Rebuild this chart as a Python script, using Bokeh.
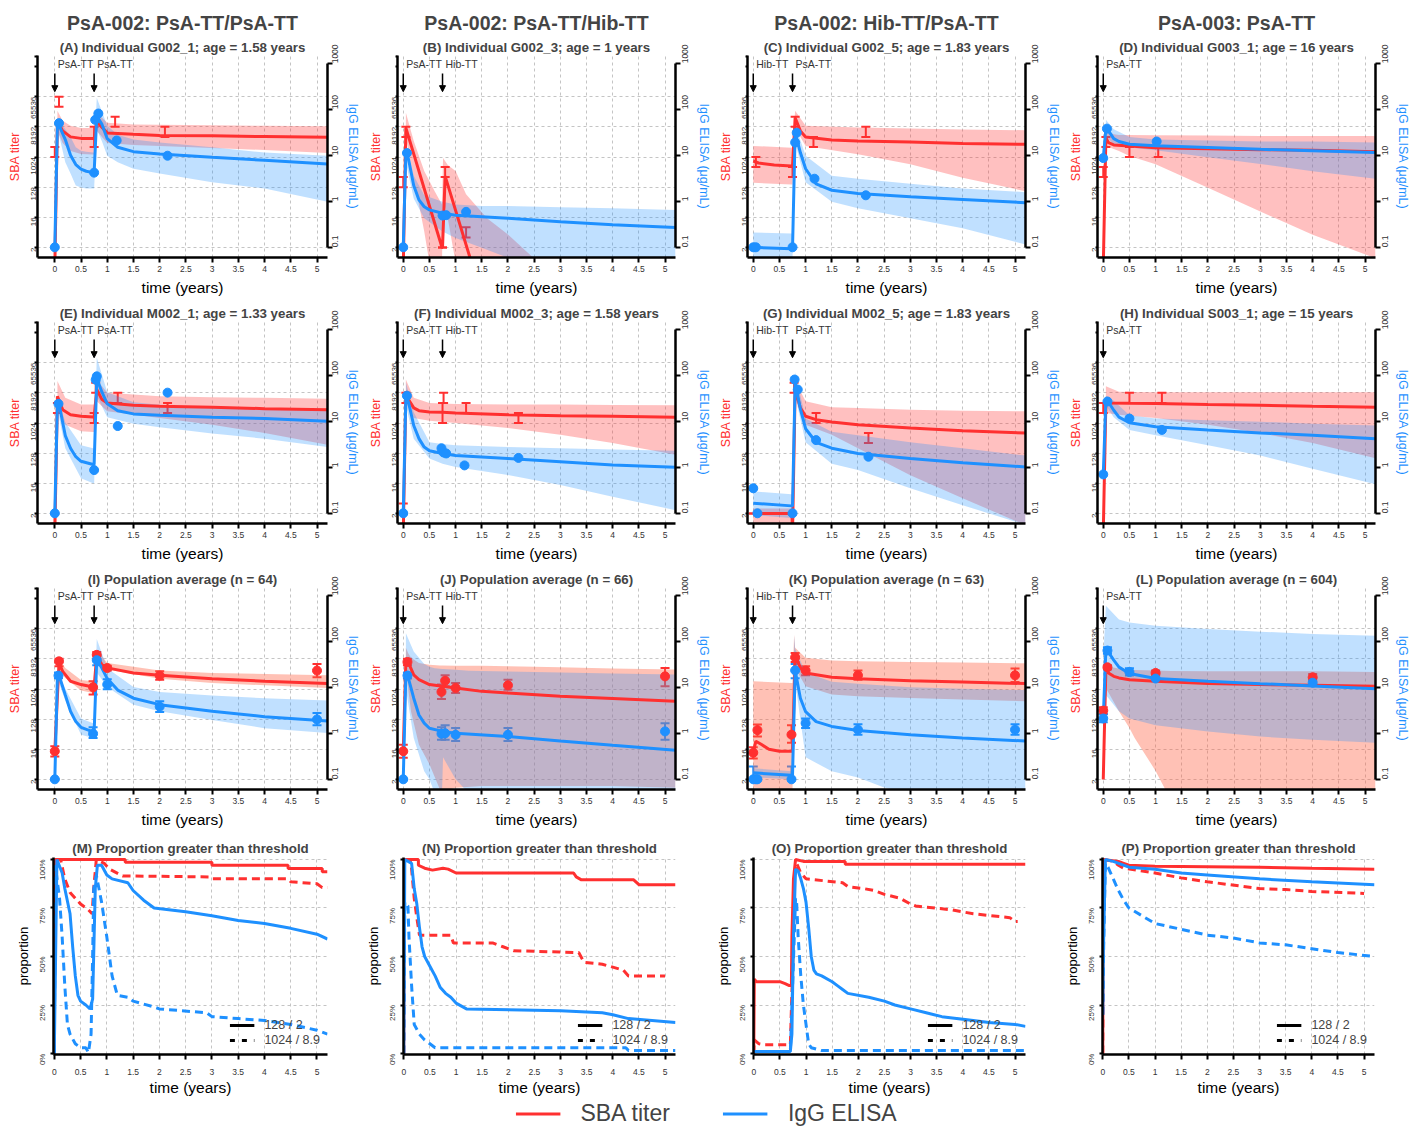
import math
from bokeh.plotting import figure
from bokeh.models import (Range1d, LogScale, LogAxis, FixedTicker, ColumnDataSource,
                          Whisker, TeeHead, Arrow, NormalHead, Title, Legend, LegendItem)
from bokeh.layouts import column, row
from bokeh.embed import file_html
from bokeh.resources import INLINE
from bokeh.core.properties import value

# ----------------------------------------------------------------- data
# SBA titers (reciprocal titer) and IgG ELISA (ug/mL) versus time (years)

# Panel A
A_sba_t = [0, 0.05, 0.15, 0.3, 0.5, 0.73, 0.75, 0.8, 1.0, 1.5, 2, 3, 4, 5.2]
A_sba_fit = [0.5, 12400, 6200, 4100, 3700, 3700, 3700, 11600, 5400, 4900, 4500, 4400, 4200, 4000]
A_sba_band_t = [0.05, 0.15, 0.3, 0.5, 0.73, 0.75, 0.8, 1.0, 1.5, 2, 3, 4, 5.2]
A_sba_hi = [24800, 12400, 8800, 7600, 7600, 7600, 21600, 10800, 9700, 9400, 9100, 8800, 8500]
A_sba_lo = [6200, 2700, 1550, 1260, 1220, 1220, 6200, 2700, 2350, 2200, 1900, 1660, 1350]
A_sba_obs_t = [0, 0.08, 0.75, 1.15, 2.1]
A_sba_obs_lo = [1024, 32768, 2048, 8192, 4096]
A_sba_obs_hi = [2048, 65536, 8192, 16384, 8192]
A_elisa_t = [0, 0.05, 0.1, 0.2, 0.3, 0.4, 0.5, 0.6, 0.73, 0.75, 0.8, 0.9, 1.0, 1.2, 1.5, 2, 3, 4, 5.2]
A_elisa_fit = [0.1, 50, 40, 22, 10, 6.3, 5.0, 4.5, 4.2, 4.2, 71, 47, 23, 15, 12, 10.7, 9.1, 7.8, 6.5]
A_elisa_band_t = [0.05, 0.1, 0.2, 0.3, 0.4, 0.5, 0.6, 0.73, 0.75, 0.8, 0.9, 1.0, 1.2, 1.5, 2, 3, 4, 5.2]
A_elisa_hi = [66, 56, 37, 25, 15, 12.6, 12, 11.5, 11.5, 178, 89, 44, 28, 22, 19, 15, 11.5, 9.8]
A_elisa_lo = [37, 22, 7.1, 4.0, 2.2, 2.0, 1.9, 1.9, 1.9, 37, 20, 9.8, 7.1, 5.1, 4.0, 2.6, 1.9, 0.98]
A_elisa_obs_t = [0, 0.08, 0.75, 0.77, 0.83, 1.18, 2.15]
A_elisa_obs = [0.1, 50, 4.2, 59, 81, 21, 9.8]

# Panel B
B_sba_t = [0, 0.05, 0.74, 0.75, 0.8, 1.28]
B_sba_fit = [0.5, 7600, 2, 2, 274, 0.93]
B_sba_band_t = [0.05, 0.2, 0.4, 0.5, 0.6, 0.74, 0.76, 0.85, 1.0, 1.2, 1.6, 2.0, 2.5]
B_sba_hi = [21600, 3100, 390, 194, 97, 39, 955, 588, 388, 79, 15, 4.9, 0.93]
B_sba_lo = [3800, 239, 6.1, 0.7, 0.7, 0.7, 60, 15, 0.7, 0.7, 0.7, 0.7, 0.7]
B_sba_obs_t = [0, 0.05, 0.75, 0.8, 1.2]
B_sba_obs_lo = [128, 4096, 2, 256, 4]
B_sba_obs_hi = [256, 8192, 2, 512, 8]
B_elisa_t = [0, 0.05, 0.1, 0.2, 0.3, 0.4, 0.5, 0.75, 1, 2, 3, 4, 5.2]
B_elisa_fit = [0.1, 11.5, 8.3, 2.2, 1.07, 0.76, 0.65, 0.55, 0.5, 0.43, 0.36, 0.31, 0.27]
B_elisa_band_t = [0.05, 0.2, 0.4, 0.75, 1, 1.5, 2, 3, 4, 5.2]
B_elisa_hi = [19, 3.6, 1.35, 0.98, 0.85, 0.79, 0.79, 0.74, 0.71, 0.65]
B_elisa_lo = [7.1, 1.15, 0.43, 0.22, 0.16, 0.098, 0.059, 0.05, 0.05, 0.05]
B_elisa_obs_t = [0, 0.07, 0.75, 0.82, 1.2]
B_elisa_obs = [0.1, 11.2, 0.49, 0.5, 0.59]

# Panel C
C_sba_t = [0, 0.1, 0.4, 0.73, 0.75, 0.8, 0.9, 1.0, 1.5, 2, 3, 4, 5.2]
C_sba_fit = [776, 676, 588, 549, 549, 15300, 6200, 4100, 3300, 3100, 2900, 2600, 2450]
C_sba_band_t = [0, 0.73, 0.75, 0.8, 1.0, 2, 3, 4, 5.2]
C_sba_hi = [2200, 1950, 1950, 24800, 8800, 7800, 7300, 6800, 6500]
C_sba_lo = [172, 154, 154, 7600, 2200, 1230, 620, 244, 97]
C_sba_obs_t = [0.05, 0.75, 0.8, 1.15, 2.15]
C_sba_obs_lo = [512, 256, 8192, 2048, 4096]
C_sba_obs_hi = [1024, 512, 16384, 4096, 8192]
C_elisa_t = [0, 0.73, 0.75, 0.8, 0.9, 1.0, 1.2, 1.5, 2, 3, 4, 5.2]
C_elisa_fit = [0.1, 0.093, 0.093, 31, 11.5, 5.1, 2.4, 1.74, 1.48, 1.26, 1.1, 0.93]
C_elisa_band_t = [0, 0.73, 0.75, 0.8, 1.0, 1.5, 2, 3, 4, 5.2]
C_elisa_hi = [0.21, 0.2, 0.2, 47, 9.8, 3.6, 3.1, 2.4, 1.9, 1.58]
C_elisa_lo = [0.059, 0.059, 0.059, 19, 2.6, 0.98, 0.71, 0.43, 0.26, 0.115]
C_elisa_obs_t = [0, 0.05, 0.75, 0.8, 0.83, 1.17, 2.15]
C_elisa_obs = [0.1, 0.1, 0.1, 19, 31, 3.1, 1.35]

# Panel D
D_sba_t = [0, 0.05, 0.1, 0.2, 0.5, 1, 2, 3, 4, 5.2]
D_sba_fit = [0.5, 3900, 2760, 2350, 2200, 1950, 1820, 1700, 1630, 1480]
D_sba_band_t = [0.05, 0.2, 0.3, 0.5, 1, 2, 3, 4, 5.2]
D_sba_hi = [6200, 4940, 4700, 4700, 4600, 4480, 4390, 4390, 4390]
D_sba_lo = [2200, 1780, 1550, 1100, 620, 122, 24, 4.8, 0.95]
D_sba_obs_t = [0, 0.05, 0.5, 1.05]
D_sba_obs_lo = [256, 2048, 1024, 1024]
D_sba_obs_hi = [512, 4096, 2048, 2048]
D_elisa_t = [0, 0.05, 0.1, 0.2, 0.3, 0.5, 1, 2, 3, 4, 5.2]
D_elisa_fit = [8.7, 37, 34, 23, 20, 17.4, 16.2, 14.8, 13.5, 12.6, 11.5]
D_elisa_band_t = [0.05, 0.2, 0.5, 1, 2, 3, 4, 5.2]
D_elisa_hi = [59, 37, 25, 22, 21, 20, 20, 19]
D_elisa_lo = [26, 17.4, 14.8, 12.9, 9.1, 6.5, 4.5, 3.1]
D_elisa_obs_t = [0, 0.07, 1.02]
D_elisa_obs = [8.7, 38, 20]

# Panel E
E_sba_t = [0, 0.05, 0.15, 0.3, 0.5, 0.73, 0.75, 0.8, 0.9, 1.0, 1.5, 2, 3, 4, 5.2]
E_sba_fit = [0.5, 6500, 2570, 1820, 1630, 1550, 1550, 10300, 5150, 4100, 3490, 3260, 3040, 2760, 2570]
E_sba_band_t = [0.05, 0.2, 0.5, 0.73, 0.75, 0.8, 1, 2, 3, 4, 5.2]
E_sba_hi = [18400, 5800, 3640, 3640, 3640, 20200, 8200, 6500, 6100, 5800, 5500]
E_sba_lo = [2900, 910, 576, 549, 549, 4600, 2300, 1450, 910, 512, 228]
E_sba_obs_t = [0, 0.05, 0.75, 0.78, 1.2, 2.15]
E_sba_obs_lo = [1, 2048, 1024, 8192, 4096, 2048]
E_sba_obs_hi = [2, 4096, 2048, 16384, 8192, 4096]
E_elisa_t = [0, 0.05, 0.1, 0.2, 0.3, 0.4, 0.5, 0.73, 0.75, 0.8, 0.9, 1.0, 1.2, 1.5, 2, 3, 4, 5.2]
E_elisa_fit = [0.1, 26, 18.6, 4.9, 2.6, 1.7, 1.35, 1.15, 1.15, 85, 43, 24, 17, 14.5, 13.5, 12.3, 11.5, 10]
E_elisa_band_t = [0.05, 0.2, 0.5, 0.73, 0.75, 0.8, 1, 1.5, 2, 3, 4, 5.2]
E_elisa_hi = [36, 9.5, 3.0, 2.6, 2.6, 245, 43, 26, 23, 20, 18.6, 17]
E_elisa_lo = [18.6, 2.6, 0.58, 0.45, 0.45, 36, 12.3, 8.9, 7.4, 5.4, 4.2, 2.75]
E_elisa_obs_t = [0, 0.07, 0.75, 0.78, 0.8, 1.2, 2.15]
E_elisa_obs = [0.1, 24, 0.87, 80, 95, 7.9, 42]

# Panel F
F_sba_t = [0, 0.05, 0.1, 0.2, 0.3, 0.5, 0.75, 1, 2, 3, 4, 5.2]
F_sba_fit = [0.5, 9200, 5150, 2900, 2400, 2200, 2150, 2050, 1820, 1700, 1630, 1520]
F_sba_band_t = [0.05, 0.2, 0.5, 1, 2, 3, 4, 5.2]
F_sba_hi = [20600, 5800, 4100, 3820, 3640, 3640, 3570, 3490]
F_sba_lo = [4600, 1450, 1200, 1024, 724, 455, 256, 114]
F_sba_obs_t = [0, 0.05, 0.75, 0.77, 1.2, 2.2]
F_sba_obs_lo = [2, 4096, 1024, 4096, 2048, 1024]
F_sba_obs_hi = [4, 8192, 4096, 8192, 4096, 2048]
F_elisa_t = [0, 0.05, 0.1, 0.2, 0.3, 0.4, 0.5, 0.75, 1, 2, 3, 4, 5.2]
F_elisa_fit = [0.1, 36, 26, 8.1, 4.2, 2.75, 2.3, 2.0, 1.8, 1.55, 1.32, 1.12, 1.0]
F_elisa_band_t = [0.05, 0.2, 0.5, 0.75, 1, 2, 3, 4, 5.2]
F_elisa_hi = [71, 15.8, 3.5, 3.2, 3.0, 2.75, 2.6, 2.45, 2.3]
F_elisa_lo = [22, 4.2, 1.55, 1.2, 1.02, 0.68, 0.41, 0.23, 0.117]
F_elisa_obs_t = [0, 0.07, 0.73, 0.77, 0.82, 1.17, 2.2]
F_elisa_obs = [0.1, 36, 2.6, 2.1, 2.0, 1.1, 1.6]

# Panel G
G_sba_t = [0, 0.74, 0.75, 0.8, 0.9, 1.0, 1.2, 1.5, 2, 3, 4, 5.2]
G_sba_fit = [2, 2, 0.5, 11000, 2900, 1630, 1290, 1100, 910, 724, 600, 512]
G_sba_band_t = [0, 0.74, 0.75, 0.8, 1.0, 1.5, 2, 3, 4, 5.2]
G_sba_hi = [2.8, 2.8, 2.8, 18400, 4600, 3040, 2900, 2570, 2400, 2300]
G_sba_lo = [0.7, 0.7, 0.7, 5800, 910, 455, 181, 28, 5.7, 0.89]
G_sba_obs_t = [0, 0.08, 0.78, 1.2, 2.2]
G_sba_obs_lo = [2, 2, 8192, 1024, 256]
G_sba_obs_hi = [2, 2, 16384, 2048, 512]
G_elisa_t = [0, 0.73, 0.75, 0.8, 0.9, 1.0, 1.2, 1.5, 2, 3, 4, 5.2]
G_elisa_fit = [0.166, 0.145, 0.145, 71, 18.6, 6.9, 3.5, 2.6, 2.0, 1.55, 1.26, 1.02]
G_elisa_band_t = [0, 0.73, 0.75, 0.8, 1, 1.5, 2, 3, 4, 5.2]
G_elisa_hi = [0.3, 0.26, 0.26, 117, 11.5, 5.9, 5.0, 3.5, 2.6, 1.8]
G_elisa_lo = [0.091, 0.079, 0.079, 36, 3.5, 1.2, 0.87, 0.35, 0.15, 0.056]
G_elisa_obs_t = [0, 0.08, 0.75, 0.79, 0.85, 1.2, 2.2]
G_elisa_obs = [0.35, 0.1, 0.1, 81, 49, 3.9, 1.7]

# Panel H
H_sba_t = [0, 0.05, 0.1, 0.5, 1, 2, 3, 4, 5.2]
H_sba_fit = [0.5, 4300, 4100, 4000, 3900, 3640, 3490, 3260, 3040]
H_sba_band_t = [0.05, 0.3, 1, 2, 3, 4, 5.2]
H_sba_hi = [13000, 8800, 8600, 8600, 8600, 8600, 8600]
H_sba_lo = [2048, 1820, 1450, 910, 512, 256, 90]
H_sba_obs_t = [0, 0.5, 1.12]
H_sba_obs_lo = [2048, 4096, 4096]
H_sba_obs_hi = [4096, 8192, 8192]
H_elisa_t = [0, 0.05, 0.1, 0.2, 0.3, 0.5, 1, 2, 3, 4, 5.2]
H_elisa_fit = [0.7, 28, 26, 17.4, 12.3, 9.3, 7.6, 6.5, 5.6, 5.0, 4.2]
H_elisa_band_t = [0.05, 0.2, 0.5, 1, 2, 3, 4, 5.2]
H_elisa_hi = [36, 28, 13.5, 11.5, 10.5, 9.8, 8.9, 8.1]
H_elisa_lo = [22, 12.3, 6.5, 5.0, 3.0, 1.8, 0.93, 0.43]
H_elisa_obs_t = [0, 0.08, 0.5, 1.12]
H_elisa_obs = [0.7, 27, 11.5, 6.5]

# Panel I
I_sba_t = [0, 0.08, 0.15, 0.3, 0.5, 0.73, 0.75, 0.8, 0.9, 1.0, 1.5, 2, 3, 4, 5.2]
I_sba_fit = [14, 6200, 3470, 1750, 1390, 1180, 1180, 10800, 5400, 4390, 3100, 2630, 2090, 1750, 1490]
I_sba_band_t = [0.05, 0.2, 0.5, 0.73, 0.75, 0.8, 1, 2, 3, 5.2]
I_sba_hi = [9700, 4390, 1910, 1750, 1750, 15300, 6200, 3640, 3100, 2630]
I_sba_lo = [4390, 2200, 920, 776, 776, 7640, 3900, 2090, 1550, 1100]
I_sba_obs_t = [0, 0.08, 0.73, 0.8, 1.0, 2, 5]
I_sba_obs = [14, 6900, 1150, 10800, 4350, 2580, 3650]
I_sba_obs_lo = [9.8, 4900, 700, 8300, 3700, 1950, 2300]
I_sba_obs_hi = [19.7, 8300, 1750, 13100, 5100, 3470, 5750]
I_elisa_t = [0, 0.05, 0.1, 0.2, 0.3, 0.4, 0.5, 0.73, 0.75, 0.8, 0.9, 1.0, 1.2, 1.5, 2, 3, 4, 5.2]
I_elisa_fit = [0.1, 18, 15.5, 6.8, 3.0, 1.8, 1.35, 1.07, 1.07, 41, 26, 15.5, 8.7, 5.8, 4.2, 3.0, 2.3, 1.86]
I_elisa_band_t = [0.05, 0.2, 0.5, 0.73, 0.75, 0.8, 1, 1.5, 2, 3, 4, 5.2]
I_elisa_hi = [21, 9.3, 2.1, 1.66, 1.66, 112, 26, 10.2, 7.9, 6.6, 5.8, 5.2]
I_elisa_lo = [15.5, 5.2, 0.93, 0.79, 0.79, 21, 10.2, 4.2, 3.0, 1.95, 1.29, 1.02]
I_elisa_obs_t = [0, 0.07, 0.73, 0.8, 1.0, 2, 5]
I_elisa_obs = [0.1, 18, 0.98, 39, 11.5, 3.8, 2.0]
I_elisa_obs_lo = [0.1, 15.8, 0.79, 30, 9.1, 2.9, 1.5]
I_elisa_obs_hi = [0.1, 21, 1.35, 49, 15, 5.0, 2.75]

# Panel J
J_sba_t = [0, 0.05, 0.1, 0.2, 0.3, 0.5, 0.75, 1.0, 1.5, 2, 3, 4, 5.2]
J_sba_fit = [14, 7640, 6200, 2700, 1950, 1390, 1230, 1100, 870, 776, 620, 530, 440]
J_sba_band_t = [0.05, 0.1, 0.15, 0.3, 0.5, 0.7, 0.75, 1, 1.5, 2, 3, 4, 5.2]
J_sba_hi = [17600, 11600, 8800, 6200, 5500, 5200, 5200, 5100, 5050, 4950, 4600, 4240, 3900]
J_sba_lo = [4390, 870, 208, 22, 5.7, 1.0, 0.87, 1.13, 1.27, 1.27, 1.27, 1.27, 1.13]
J_sba_obs_t = [0, 0.08, 0.73, 0.8, 1.0, 2, 5]
J_sba_obs = [14, 6600, 840, 1820, 1100, 1320, 2450]
J_sba_obs_lo = [8.9, 5250, 515, 1230, 780, 980, 1230]
J_sba_obs_hi = [22, 8300, 1390, 2630, 1550, 1950, 4350]
J_elisa_t = [0, 0.05, 0.1, 0.2, 0.3, 0.4, 0.5, 0.75, 1, 2, 3, 4, 5.2]
J_elisa_fit = [0.1, 20, 15.5, 5.8, 2.5, 1.66, 1.29, 1.1, 1.0, 0.85, 0.68, 0.55, 0.43]
J_elisa_band_t = [0.05, 0.2, 0.4, 0.5, 0.6, 0.74, 0.76, 1.0, 1.25, 2, 3, 4, 5.2]
J_elisa_hi = [150, 60, 32, 28, 26, 25, 25, 24, 23, 22, 21, 20, 19]
J_elisa_lo = [9.3, 0.79, 0.15, 0.1, 0.05, 0.05, 0.3, 0.1, 0.05, 0.05, 0.05, 0.05, 0.05]
J_elisa_obs_t = [0, 0.08, 0.73, 0.8, 1.0, 2, 5]
J_elisa_obs = [0.1, 18, 0.98, 1.0, 0.93, 0.93, 1.1]
J_elisa_obs_lo = [0.1, 15.5, 0.72, 0.72, 0.68, 0.68, 0.72]
J_elisa_obs_hi = [0.1, 21, 1.35, 1.5, 1.3, 1.3, 1.66]

# Panel K
K_sba_t = [0, 0.05, 0.15, 0.3, 0.5, 0.73, 0.75, 0.8, 0.9, 1.0, 1.5, 2, 3, 4, 5.2]
K_sba_fit = [12.6, 28, 22.6, 16, 14, 14, 14, 10800, 4390, 3100, 2300, 2090, 1820, 1660, 1490]
K_sba_band_t = [0, 0.73, 0.75, 0.78, 0.8, 1.0, 1.5, 2, 3, 4, 5.2]
K_sba_hi = [1750, 1550, 1550, 43200, 17600, 8800, 7300, 7000, 6650, 6340, 6040]
K_sba_lo = [1.13, 1.0, 1.0, 512, 4390, 1230, 695, 617, 549, 495, 440]
K_sba_obs_t = [0, 0.08, 0.73, 0.8, 1.0, 2, 5]
K_sba_obs = [12.6, 60, 44, 9100, 3650, 2630, 2630]
K_sba_obs_lo = [8.5, 39, 25, 6600, 2630, 1950, 1660]
K_sba_obs_hi = [18.5, 88, 84, 12300, 4900, 3650, 4200]
K_elisa_t = [0, 0.73, 0.75, 0.8, 0.9, 1.0, 1.2, 1.5, 2, 3, 4, 5.2]
K_elisa_fit = [0.138, 0.123, 0.123, 23.4, 5.8, 2.95, 1.8, 1.41, 1.15, 0.93, 0.79, 0.68]
K_elisa_band_t = [0, 0.73, 0.75, 0.78, 0.8, 1.0, 1.5, 2, 2.5, 3, 4, 5.2]
K_elisa_hi = [0.174, 0.15, 0.15, 132, 69, 21, 13.2, 12, 11, 10, 9.3, 8.7]
K_elisa_lo = [0.11, 0.1, 0.1, 10, 13.2, 0.3, 0.15, 0.11, 0.066, 0.05, 0.05, 0.05]
K_elisa_obs_t = [0, 0.05, 0.08, 0.73, 0.8, 1.0, 2, 5]
K_elisa_obs = [0.1, 0.1, 0.1, 0.1, 23.4, 1.66, 1.2, 1.2]
K_elisa_obs_lo = [0.1, 0.1, 0.1, 0.1, 15.8, 1.3, 0.93, 0.93]
K_elisa_obs_hi = [0.19, 0.1, 0.1, 0.19, 32, 2.1, 1.58, 1.58]

# Panel L
L_sba_t = [0, 0.05, 0.1, 0.2, 0.3, 0.5, 1, 2, 3, 4, 5.2]
L_sba_fit = [2, 4180, 3100, 2450, 2200, 1950, 1750, 1490, 1390, 1320, 1230]
L_sba_band_t = [0.05, 0.3, 0.5, 0.6, 1.0, 1.3, 2, 3, 4, 5.2]
L_sba_hi = [4900, 4180, 3900, 3820, 3640, 3570, 3470, 3470, 3470, 3330]
L_sba_lo = [1100, 221, 70, 35, 3.6, 0.45, 0.4, 0.4, 0.4, 0.4]
L_sba_obs_t = [0, 0.08, 1.0, 4]
L_sba_obs = [231, 4580, 3100, 2300]
L_sba_obs_lo = [183, 3900, 2630, 1820]
L_sba_obs_hi = [292, 5250, 3640, 2900]
L_elisa_t = [0, 0.05, 0.1, 0.2, 0.3, 0.5, 1, 2, 3, 4, 5.2]
L_elisa_fit = [2.1, 66, 58, 39, 27.5, 20, 15.5, 13.5, 12, 10.7, 9.3]
L_elisa_band_t = [0, 0.05, 0.3, 0.5, 1, 2, 3, 4, 5.2]
L_elisa_hi = [42, 590, 300, 257, 219, 186, 162, 145, 132]
L_elisa_lo = [2.1, 6.8, 3.0, 2.1, 1.5, 1.1, 0.85, 0.72, 0.62]
L_elisa_obs_t = [0, 0.08, 0.5, 1.0, 4]
L_elisa_obs = [2.1, 63, 21.5, 15.5, 12.6]
L_elisa_obs_lo = [1.74, 54, 18, 13.5, 10.7]
L_elisa_obs_hi = [2.6, 74, 26, 17.8, 15]

# Proportion above threshold (row 4): red = SBA, blue = ELISA; solid = 128 / 2, dashed = 1024 / 8.9
M_red_t = [0, 0.01, 1.35, 1.35, 3.0, 3.0, 4.45, 4.45, 5.1, 5.1, 5.2]
M_red = [0, 1, 1, 0.985, 0.985, 0.97, 0.97, 0.953, 0.953, 0.937, 0.937]
M_red_dash_t = [0, 0.01, 0.12, 0.2, 0.3, 0.5, 0.65, 0.72, 0.75, 0.8, 0.95, 1.05, 1.3, 2.95, 3.0, 4.45, 4.5, 5.0, 5.1, 5.2]
M_red_dash = [0, 1, 1, 0.9, 0.83, 0.77, 0.74, 0.72, 0.85, 1.0, 0.98, 0.95, 0.915, 0.91, 0.9, 0.9, 0.885, 0.875, 0.855, 0.855]
M_blue_t = [0, 0.05, 0.15, 0.2, 0.3, 0.35, 0.4, 0.45, 0.5, 0.6, 0.68, 0.73, 0.78, 0.82, 0.9, 1.0, 1.1, 1.4, 1.5, 1.7, 1.9, 2.5, 3.0, 3.5, 4.0, 4.5, 5.0, 5.2]
M_blue = [0, 1.0, 0.93, 0.85, 0.72, 0.55, 0.40, 0.30, 0.27, 0.25, 0.23, 0.28, 0.85, 0.97, 0.97, 0.92, 0.90, 0.88, 0.84, 0.79, 0.75, 0.73, 0.71, 0.685, 0.67, 0.645, 0.615, 0.59]
M_blue_dash_t = [0, 0.02, 0.1, 0.15, 0.2, 0.25, 0.3, 0.4, 0.5, 0.6, 0.65, 0.7, 0.73, 0.75, 0.8, 0.9, 1.0, 1.1, 1.2, 1.4, 1.5, 1.9, 2.0, 2.9, 3.0, 3.5, 4.0, 4.5, 5.0, 5.2]
M_blue_dash = [0, 0.97, 0.80, 0.60, 0.35, 0.15, 0.10, 0.05, 0.03, 0.03, 0.005, 0.10, 0.50, 0.85, 0.92, 0.78, 0.60, 0.40, 0.30, 0.29, 0.27, 0.24, 0.23, 0.21, 0.19, 0.18, 0.17, 0.15, 0.12, 0.10]

N_red_t = [0, 0.01, 0.28, 0.28, 0.4, 0.55, 0.75, 0.85, 1.0, 3.25, 3.3, 3.4, 4.4, 4.5, 5.2]
N_red = [0, 1, 1, 0.97, 0.955, 0.945, 0.955, 0.95, 0.93, 0.93, 0.91, 0.895, 0.895, 0.87, 0.87]
N_red_dash_t = [0, 0.01, 0.12, 0.15, 0.2, 0.25, 0.3, 0.9, 0.95, 1.7, 1.9, 2.1, 3.35, 3.45, 3.8, 4.2, 4.3, 5.0]
N_red_dash = [0, 1, 1, 0.95, 0.80, 0.70, 0.61, 0.61, 0.57, 0.57, 0.55, 0.53, 0.52, 0.47, 0.46, 0.43, 0.40, 0.40]
N_blue_t = [0, 0.02, 0.15, 0.2, 0.25, 0.3, 0.35, 0.4, 0.5, 0.6, 0.7, 0.8, 0.9, 1.0, 1.2, 3.0, 3.8, 4.0, 4.3, 5.2]
N_blue = [0, 1, 0.98, 0.85, 0.77, 0.65, 0.55, 0.50, 0.45, 0.40, 0.34, 0.31, 0.29, 0.26, 0.23, 0.22, 0.21, 0.20, 0.18, 0.16]
N_blue_dash_t = [0, 0.02, 0.08, 0.1, 0.15, 0.2, 0.3, 0.4, 0.5, 0.6, 0.8, 4.25, 4.3, 5.2]
N_blue_dash = [0, 0.78, 0.76, 0.60, 0.35, 0.15, 0.10, 0.07, 0.05, 0.03, 0.03, 0.03, 0.015, 0.015]

O_red_t = [0, 0.01, 0.05, 0.5, 0.6, 0.68, 0.72, 0.73, 0.76, 0.8, 0.95, 1.75, 1.75, 5.2]
O_red = [0, 0.383, 0.37, 0.37, 0.36, 0.35, 0.35, 0.6, 0.9, 1.0, 0.99, 0.99, 0.975, 0.975]
O_red_dash_t = [0, 0.01, 0.1, 0.2, 0.7, 0.75, 0.78, 0.82, 0.9, 1.0, 1.7, 1.8, 2.1, 2.3, 2.5, 2.8, 3.0, 3.1, 3.8, 4.2, 4.9, 5.0, 5.05]
O_red_dash = [0, 0.07, 0.05, 0.045, 0.045, 0.5, 0.9, 0.98, 0.93, 0.90, 0.88, 0.86, 0.85, 0.84, 0.82, 0.80, 0.77, 0.76, 0.74, 0.72, 0.70, 0.68, 0.68]
O_blue_t = [0, 0.7, 0.73, 0.76, 0.8, 0.85, 0.9, 0.95, 1.0, 1.05, 1.1, 1.15, 1.2, 1.3, 1.5, 1.6, 1.7, 1.8, 2.2, 2.5, 2.7, 3.0, 3.3, 3.6, 4.2, 4.5, 5.0, 5.2]
O_blue = [0.01, 0.01, 0.10, 0.60, 0.95, 0.94, 0.90, 0.85, 0.78, 0.65, 0.50, 0.43, 0.41, 0.40, 0.37, 0.35, 0.33, 0.31, 0.29, 0.27, 0.25, 0.23, 0.21, 0.19, 0.17, 0.16, 0.15, 0.14]
O_blue_dash_t = [0, 0.7, 0.75, 0.8, 0.82, 0.85, 0.9, 0.95, 1.0, 1.05, 1.1, 1.3, 5.2]
O_blue_dash = [0.01, 0.01, 0.40, 0.80, 0.78, 0.60, 0.40, 0.25, 0.15, 0.05, 0.03, 0.015, 0.015]

P_red_t = [0, 0.01, 0.3, 0.4, 0.5, 1, 3, 4, 5.2]
P_red = [0, 1, 0.99, 0.98, 0.97, 0.965, 0.96, 0.955, 0.95]
P_red_dash_t = [0, 0.01, 0.2, 0.3, 0.4, 1, 1.5, 2, 3, 3.5, 4, 5.0]
P_red_dash = [0, 1, 0.99, 0.97, 0.955, 0.93, 0.905, 0.885, 0.85, 0.845, 0.835, 0.825]
P_blue_t = [0, 0.01, 0.05, 0.2, 0.5, 1, 1.5, 2, 3, 4, 5.2]
P_blue = [0.2, 0.5, 1.0, 0.99, 0.96, 0.95, 0.93, 0.92, 0.90, 0.885, 0.87]
P_blue_dash_t = [0, 0.02, 0.05, 0.1, 0.2, 0.3, 0.4, 0.5, 0.75, 1, 1.5, 2, 2.5, 3, 3.5, 4, 4.5, 5.2]
P_blue_dash = [0.2, 0.6, 0.98, 0.96, 0.90, 0.84, 0.79, 0.75, 0.71, 0.67, 0.64, 0.61, 0.595, 0.57, 0.56, 0.54, 0.52, 0.50]

# Texts, ticks, vaccination schedule
COL_TITLES = ["PsA-002: PsA-TT/PsA-TT", "PsA-002: PsA-TT/Hib-TT", "PsA-002: Hib-TT/PsA-TT", "PsA-003: PsA-TT"]
PANEL_TITLES = [
    "(A) Individual G002_1; age = 1.58 years", "(B) Individual G002_3; age = 1 years",
    "(C) Individual G002_5; age = 1.83 years", "(D) Individual G003_1; age = 16 years",
    "(E) Individual M002_1; age = 1.33 years", "(F) Individual M002_3; age = 1.58 years",
    "(G) Individual M002_5; age = 1.83 years", "(H) Individual S003_1; age = 15 years",
    "(I) Population average (n = 64)", "(J) Population average (n = 66)",
    "(K) Population average (n = 63)", "(L) Population average (n = 604)",
    "(M) Proportion greater than threshold", "(N) Proportion greater than threshold",
    "(O) Proportion greater than threshold", "(P) Proportion greater than threshold",
]
LETTERS = "ABCDEFGHIJKLMNOP"
VAX_T = [[0, 0.75], [0, 0.75], [0, 0.75], [0]]
VAX_NAME = [["PsA-TT", "PsA-TT"], ["PsA-TT", "Hib-TT"], ["Hib-TT", "PsA-TT"], ["PsA-TT"]]
TIME_TICKS = [0, 0.5, 1, 1.5, 2, 2.5, 3, 3.5, 4, 4.5, 5]
TIME_LABELS = ["0", "0.5", "1", "1.5", "2", "2.5", "3", "3.5", "4", "4.5", "5"]
SBA_TICKS = [2, 16, 128, 1024, 8192, 65536]
SBA_LABELS = ["2", "16", "128", "1024", "8192", "65536"]
SBA_EXTRA_TICKS = [524288, 1048576]
ELISA_TICKS = [0.1, 1, 10, 100, 1000]
ELISA_LABELS = ["0.1", "1", "10", "100", "1000"]
PROP_TICKS = [0, 0.25, 0.5, 0.75, 1]
PROP_LABELS = ["0%", "25%", "50%", "75%", "100%"]
THRESH_LABELS = ["128 / 2", "1024 / 8.9"]
SERIES_LABELS = ["SBA titer", "IgG ELISA"]

# ----------------------------------------------------------------- style / layout
FONT = "Liberation Sans"
RED = "#FF3030"
BLUE = "#1E90FF"
POP_RED_BAND = "#FF6347"
GRID = "#C4C4C4"
TOP_W = [362, 351, 350, 349]
TOP_LB = [37, 35, 34, 34]
TOP_RB = [35, 38, 38, 37]
TOP_XMIN = [-0.33, -0.11, -0.11, -0.11]
TOP_LTICK = [3, 2, 2, 2]
TOP_LSTAND = [1, 1, 1, 1]
TOP_RSTAND = [3, 5, 5, 5]
TOP_RLSTAND = [1, 2, 2, 1]
TOP_H = [298, 266, 266]
TOP_TB = [55, 23, 23]
BOT_W = [358, 350, 350, 350]
BOT_LB = [53, 45, 45, 44]
BOT_RB = [31, 33, 33, 34]
BOT_XMIN = [-0.015, -0.005, -0.005, -0.005]
ARROW_Y0 = 2 ** 18.3
ARROW_Y1 = 2 ** 16.5
VAX_LABEL_Y = 2 ** 19.25


def style_axis(ax, size="8.5px"):
    ax.axis_line_width = 2.5
    ax.axis_line_color = "black"
    ax.major_tick_line_width = 2
    ax.major_tick_line_color = "black"
    ax.minor_tick_line_color = None
    ax.minor_tick_in = 0
    ax.minor_tick_out = 0
    ax.major_label_text_font = FONT
    ax.major_label_text_font_size = size
    ax.major_label_text_color = "#333333"
    ax.axis_label_text_font = FONT
    ax.axis_label_text_font_style = "normal"


def time_axis(p, standoff, label_standoff):
    xa = p.below[0]
    style_axis(xa)
    xa.ticker = FixedTicker(ticks=TIME_TICKS)
    xa.major_label_overrides = dict(zip(TIME_TICKS, TIME_LABELS))
    xa.major_tick_in = 0
    xa.major_tick_out = 5
    xa.major_label_standoff = standoff
    xa.axis_label = "time (years)"
    xa.axis_label_text_font_size = "15.5px"
    xa.axis_label_standoff = label_standoff
    xa.axis_label_text_color = "black"


def dashed_grid(p, yticks):
    p.xgrid.ticker = FixedTicker(ticks=TIME_TICKS)
    p.ygrid.ticker = FixedTicker(ticks=yticks)
    p.grid.grid_line_color = GRID
    p.grid.grid_line_dash = "3 3"
    p.grid.grid_line_width = 1


def add_titles(p, text, standoff, col_title=None):
    p.add_layout(Title(text=text, align="center", text_font=FONT, text_font_size="13.3px",
                       text_font_style="bold", standoff=standoff), "above")
    if col_title:
        p.add_layout(Title(text=col_title, align="center", text_font=FONT, text_font_size="19.5px",
                           text_font_style="bold", standoff=6), "above")


def whiskers(p, t, lo, hi, color, rng=None):
    src = ColumnDataSource(dict(t=t, lo=lo, hi=hi))
    kw = {"y_range_name": rng} if rng else {}
    p.add_layout(Whisker(source=src, base="t", lower="lo", upper="hi", dimension="height",
                         line_color=color, line_width=2,
                         upper_head=TeeHead(size=9, line_color=color, line_width=2),
                         lower_head=TeeHead(size=9, line_color=color, line_width=2), **kw))


def titer_panel(idx, ci, ri):
    k = LETTERS[idx]
    g = globals()
    pop = ri == 2
    p = figure(width=TOP_W[ci], height=TOP_H[ri],
               x_range=Range1d(TOP_XMIN[ci], 5.2), y_range=Range1d(1, 2 ** 20.1),
               y_axis_type="log", output_backend="svg", toolbar_location=None, title=None,
               min_border_left=TOP_LB[ci], min_border_right=TOP_RB[ci],
               min_border_top=TOP_TB[ri], min_border_bottom=41,
               outline_line_color=None)
    p.extra_y_ranges = {"elisa": Range1d(0.06, 1480)}
    p.extra_y_scales = {"elisa": LogScale()}

    ly = p.left[0]
    style_axis(ly, "8px")
    ly.ticker = FixedTicker(ticks=SBA_TICKS + SBA_EXTRA_TICKS)
    ov = dict(zip(SBA_TICKS, SBA_LABELS))
    for t in SBA_EXTRA_TICKS:
        ov[t] = " "
    ly.major_label_overrides = ov
    ly.major_label_orientation = math.pi / 2
    ly.major_tick_in = 0
    ly.major_tick_out = TOP_LTICK[ci]
    ly.major_label_standoff = TOP_LSTAND[ci]
    ly.axis_label = "SBA titer"
    ly.axis_label_text_color = RED
    ly.axis_label_text_font_size = "12.5px"
    ly.axis_label_standoff = 0

    ry = LogAxis(y_range_name="elisa", ticker=FixedTicker(ticks=ELISA_TICKS), bounds=(0.1, 1000))
    style_axis(ry)
    ry.major_label_overrides = dict(zip(ELISA_TICKS, ELISA_LABELS))
    ry.major_label_orientation = math.pi / 2
    ry.major_tick_in = 0
    ry.major_tick_out = 5
    ry.major_label_standoff = TOP_RSTAND[ci]
    ry.axis_label = "IgG ELISA (\u03bcg/mL)"
    ry.axis_label_text_color = BLUE
    ry.axis_label_text_font_size = "12.5px"
    ry.axis_label_standoff = TOP_RLSTAND[ci]
    p.add_layout(ry, "right")

    time_axis(p, 3, 4)
    dashed_grid(p, SBA_TICKS)
    add_titles(p, PANEL_TITLES[idx], 2, COL_TITLES[ci] if ri == 0 else None)

    # confidence bands
    p.varea(x=g[k + "_sba_band_t"], y1=g[k + "_sba_lo"], y2=g[k + "_sba_hi"],
            fill_color=POP_RED_BAND if pop else RED, fill_alpha=0.4 if pop else 0.3)
    p.varea(x=g[k + "_elisa_band_t"], y1=g[k + "_elisa_lo"], y2=g[k + "_elisa_hi"],
            fill_color=BLUE, fill_alpha=0.28, y_range_name="elisa")
    # fitted curves
    p.line(g[k + "_sba_t"], g[k + "_sba_fit"], line_color=RED, line_width=3)
    p.line(g[k + "_elisa_t"], g[k + "_elisa_fit"], line_color=BLUE, line_width=3,
           y_range_name="elisa")
    # observations
    whiskers(p, g[k + "_sba_obs_t"], g[k + "_sba_obs_lo"], g[k + "_sba_obs_hi"], RED)
    if pop:
        p.scatter(g[k + "_sba_obs_t"], g[k + "_sba_obs"], size=9, color=RED)
        whiskers(p, g[k + "_elisa_obs_t"], g[k + "_elisa_obs_lo"], g[k + "_elisa_obs_hi"],
                 BLUE, "elisa")
    p.scatter(g[k + "_elisa_obs_t"], g[k + "_elisa_obs"], size=9, color=BLUE,
              y_range_name="elisa")

    # vaccination arrows
    vsrc = ColumnDataSource(dict(t=VAX_T[ci], name=VAX_NAME[ci]))
    p.add_layout(Arrow(source=vsrc, x_start="t", x_end="t", y_start=ARROW_Y0, y_end=ARROW_Y1,
                       line_color="black", line_width=1.5,
                       end=NormalHead(size=6, fill_color="black", line_color="black")))
    p.text(x="t", y=VAX_LABEL_Y, text="name", source=vsrc, text_font=value(FONT),
           text_font_size="10.5px", text_align="left", text_baseline="middle",
           text_color="#333333", x_offset=3)
    return p


def prop_panel(idx, ci):
    k = LETTERS[idx]
    g = globals()
    p = figure(width=BOT_W[ci], height=268, x_range=Range1d(BOT_XMIN[ci], 5.2),
               y_range=Range1d(-0.005, 1.01), output_backend="svg", toolbar_location=None,
               title=None, min_border_left=BOT_LB[ci], min_border_right=BOT_RB[ci],
               min_border_top=27, min_border_bottom=44, outline_line_color=None)
    ly = p.left[0]
    style_axis(ly, "8px")
    ly.ticker = FixedTicker(ticks=PROP_TICKS)
    ly.major_label_overrides = dict(zip(PROP_TICKS, PROP_LABELS))
    ly.major_label_orientation = math.pi / 2
    ly.major_tick_in = 0
    ly.major_tick_out = 3
    ly.major_label_standoff = 8
    ly.axis_label = "proportion"
    ly.axis_label_text_font_size = "13px"
    ly.axis_label_text_color = "black"
    ly.axis_label_standoff = 0
    time_axis(p, 9, 1)
    dashed_grid(p, PROP_TICKS[1:])
    add_titles(p, PANEL_TITLES[idx], 4)

    p.line(g[k + "_red_t"], g[k + "_red"], line_color=RED, line_width=3)
    p.line(g[k + "_red_dash_t"], g[k + "_red_dash"], line_color=RED, line_width=3,
           line_dash="8 5")
    p.line(g[k + "_blue_t"], g[k + "_blue"], line_color=BLUE, line_width=3)
    p.line(g[k + "_blue_dash_t"], g[k + "_blue_dash"], line_color=BLUE, line_width=3,
           line_dash="8 5")

    s1 = p.line([0, 1], [-1, -1], line_color="black", line_width=3)
    s2 = p.line([0, 1], [-1, -1], line_color="black", line_width=3, line_dash="5 7")
    leg = Legend(items=[LegendItem(label=THRESH_LABELS[0], renderers=[s1]),
                        LegendItem(label=THRESH_LABELS[1], renderers=[s2])],
                 location="bottom_right", label_text_font=FONT, label_text_font_size="12.5px",
                 glyph_width=25, glyph_height=12, label_height=12, label_standoff=10,
                 spacing=1, padding=2, margin=5, background_fill_alpha=0,
                 border_line_alpha=0)
    p.add_layout(leg)
    return p


rows = []
for ri in range(3):
    rows.append(row(*[titer_panel(ri * 4 + ci, ci, ri) for ci in range(4)]))
rows.append(row(*[prop_panel(12 + ci, ci) for ci in range(4)]))

lf = figure(width=1412, height=30, x_range=Range1d(0, 1), y_range=Range1d(0, 1),
            output_backend="svg", toolbar_location=None, min_border=0,
            x_axis_location=None, y_axis_location=None, outline_line_color=None)
lf.grid.visible = False
r1 = lf.line([0, 1], [-5, -5], line_color=RED, line_width=3)
r2 = lf.line([0, 1], [-5, -5], line_color=BLUE, line_width=3)
lf.add_layout(Legend(items=[LegendItem(label=SERIES_LABELS[0], renderers=[r1]),
                            LegendItem(label=SERIES_LABELS[1], renderers=[r2])],
                     orientation="horizontal", location="center", label_text_font=FONT,
                     label_text_font_size="23px", glyph_width=45, glyph_height=20,
                     label_standoff=20, spacing=53, padding=0, margin=0,
                     border_line_alpha=0, background_fill_alpha=0))

layout = column(*rows, lf)
open("out.html", "w").write(file_html(layout, INLINE, title="PsA-TT antibody kinetics"))
